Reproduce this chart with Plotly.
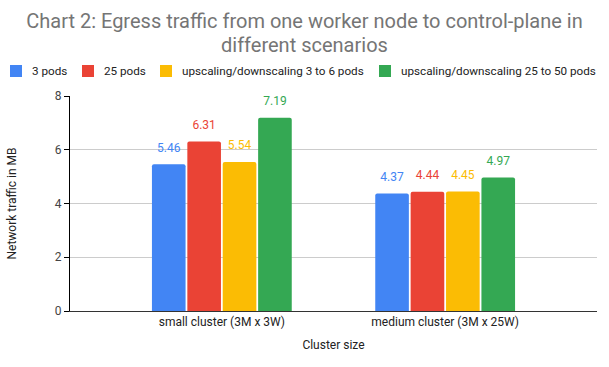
import plotly.graph_objects as go

categories = ["small cluster (3M x 3W)", "medium cluster (3M x 25W)"]
series_names = ["3 pods", "25 pods", "upscaling/downscaling 3 to 6 pods", "upscaling/downscaling 25 to 50 pods"]
pods_3 = [5.46, 4.37]
pods_25 = [6.31, 4.44]
scale_3_6 = [5.54, 4.45]
scale_25_50 = [7.19, 4.97]
series_values = [pods_3, pods_25, scale_3_6, scale_25_50]
colors = ["#4285F4", "#EA4335", "#FBBC04", "#34A853"]
y_ticks = [0, 2, 4, 6, 8]

W, H = 609, 367
ML, MR, MT, MB = 70, 12, 96, 56
PW, PH = W - ML - MR, H - MT - MB


def px_x(p):
    return (p - ML) / PW


def px_y(p):
    return (H - MB - p) / PH


fig = go.Figure()
for i, (name, vals, col) in enumerate(zip(series_names, series_values, colors)):
    fig.add_trace(go.Bar(
        name=name, x=categories, y=vals, marker_color=col, marker_line_width=0,
        offsetgroup=str(i), showlegend=False,
    ))
for i, (name, vals, col) in enumerate(zip(series_names, series_values, colors)):
    fig.add_trace(go.Scatter(
        x=categories, y=vals, mode="markers+text", offsetgroup=str(i),
        marker=dict(size=14, opacity=0), text=[f"{v:.2f}" for v in vals],
        textposition="top center", textfont=dict(color=col, size=12, family="Roboto"),
        cliponaxis=False, showlegend=False, hoverinfo="skip",
    ))

# manual legend (compact, single row like the reference)
legend_sq_x = [10, 82, 160, 379]
legend_y = 71
for sx, name, col in zip(legend_sq_x, series_names, colors):
    fig.add_shape(type="rect", xref="paper", yref="paper",
                  x0=px_x(sx), x1=px_x(sx + 12), y0=px_y(legend_y + 6), y1=px_y(legend_y - 6),
                  fillcolor=col, line_width=0)
    fig.add_annotation(xref="paper", yref="paper", x=px_x(sx + 20), y=px_y(legend_y),
                       text=name, showarrow=False, xanchor="left", yanchor="middle",
                       font=dict(size=11.7, color="#222222", family="Roboto"))

# second title line (reference line spacing is tighter than plotly's default)
fig.add_annotation(xref="paper", yref="paper", x=px_x(W / 2), y=px_y(45),
                   text="different scenarios", showarrow=False, xanchor="center", yanchor="middle",
                   borderpad=0,
                   font=dict(size=20, color="#757575", family="Roboto"))

fig.update_layout(
    width=W, height=H,
    margin=dict(l=ML, r=MR, t=MT, b=MB),
    paper_bgcolor="white", plot_bgcolor="white",
    font=dict(family="Roboto", size=12, color="#222222"),
    title=dict(text="Chart 2: Egress traffic from one worker node to control-plane in",
               x=0.5, xanchor="center", y=1 - 21 / H, yanchor="middle",
               font=dict(size=20, color="#757575", family="Roboto")),
    barmode="group", bargap=0.366, bargroupgap=0.05, barcornerradius=2,
    scattermode="group", scattergap=0.366,
    showlegend=False,
)
fig.update_xaxes(range=[-0.68, 1.68], showline=True, linecolor="#333333", linewidth=1,
                 title=dict(text="Cluster size", font=dict(size=12, color="#222222"), standoff=12),
                 tickfont=dict(size=12, color="#222222"), ticks="")
fig.update_yaxes(range=[0, 8], tickvals=y_ticks, showgrid=True, gridcolor="#cccccc",
                 showline=True, linecolor="#000000", linewidth=1, ticks="outside", ticklen=5,
                 tickcolor="#000000", zeroline=False,
                 title=dict(text="Network traffic in MB", font=dict(size=12, color="#222222"), standoff=35),
                 tickfont=dict(size=12, color="#444444"))
fig.write_html("out.html", config={"displayModeBar": False},
               post_script="document.body.style.margin='0';")
